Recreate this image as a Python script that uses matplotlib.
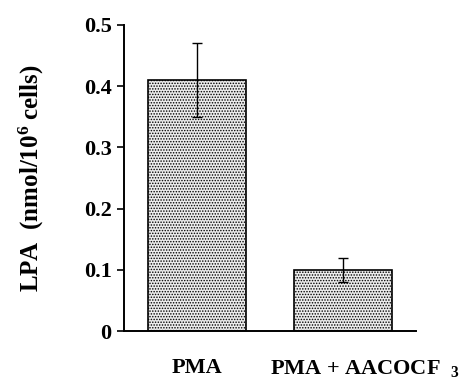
import matplotlib

matplotlib.use("Agg")
import matplotlib.pyplot as plt  # noqa: E402
from matplotlib.transforms import ScaledTranslation  # noqa: E402

groups = ["PMA", "PMA + AACOCF  $_3$"]
lpa = [0.41, 0.10]
lpa_err = [0.06, 0.02]
yticks = [0, 0.1, 0.2, 0.3, 0.4, 0.5]
ytick_labels = ["0", "0.1", "0.2", "0.3", "0.4", "0.5"]

plt.rcParams["font.family"] = ["Liberation Serif", "DejaVu Serif"]
plt.rcParams["font.weight"] = "bold"
plt.rcParams["mathtext.fontset"] = "custom"
plt.rcParams["mathtext.rm"] = "Liberation Serif:bold"
plt.rcParams["mathtext.it"] = "Liberation Serif:bold"
plt.rcParams["mathtext.bf"] = "Liberation Serif:bold"
plt.rcParams["hatch.linewidth"] = 0.7
plt.rcParams["hatch.color"] = "#444444"

fig = plt.figure(figsize=(4.77, 3.78), dpi=100)
ax = fig.add_axes([0.26, 0.124, 0.612, 0.81])

x = list(range(len(groups)))
ax.bar(x, lpa, width=0.67, color="#ececec", edgecolor="black", linewidth=1.2,
       hatch="......", zorder=2)
ax.errorbar(x, lpa, yerr=lpa_err, fmt="none", ecolor="black", elinewidth=1.0,
            capsize=3.5, capthick=1.0, zorder=3)

ax.set_xlim(-0.5, 1.5)
ax.set_ylim(0, 0.5)
ax.set_yticks(yticks)
ax.set_yticklabels(ytick_labels, fontsize=16, fontweight="bold")
ax.set_xticks(x)
xlabels = ax.set_xticklabels(groups, fontsize=16, fontweight="bold")
ax.tick_params(axis="x", length=0, pad=19)
ax.tick_params(axis="y", length=5, width=1.2, direction="out", pad=4)

# second label sits a bit right of its bar in the original
xlabels[1].set_transform(xlabels[1].get_transform()
                         + ScaledTranslation(0.22, 0, fig.dpi_scale_trans))

for side in ("top", "right"):
    ax.spines[side].set_visible(False)
for side in ("left", "bottom"):
    ax.spines[side].set_linewidth(1.4)

ax.set_ylabel("LPA  (nmol/10$^{6}$ cells)", fontsize=18, fontweight="bold", labelpad=27)

plt.savefig("out.png", dpi=100)
plt.close(fig)
